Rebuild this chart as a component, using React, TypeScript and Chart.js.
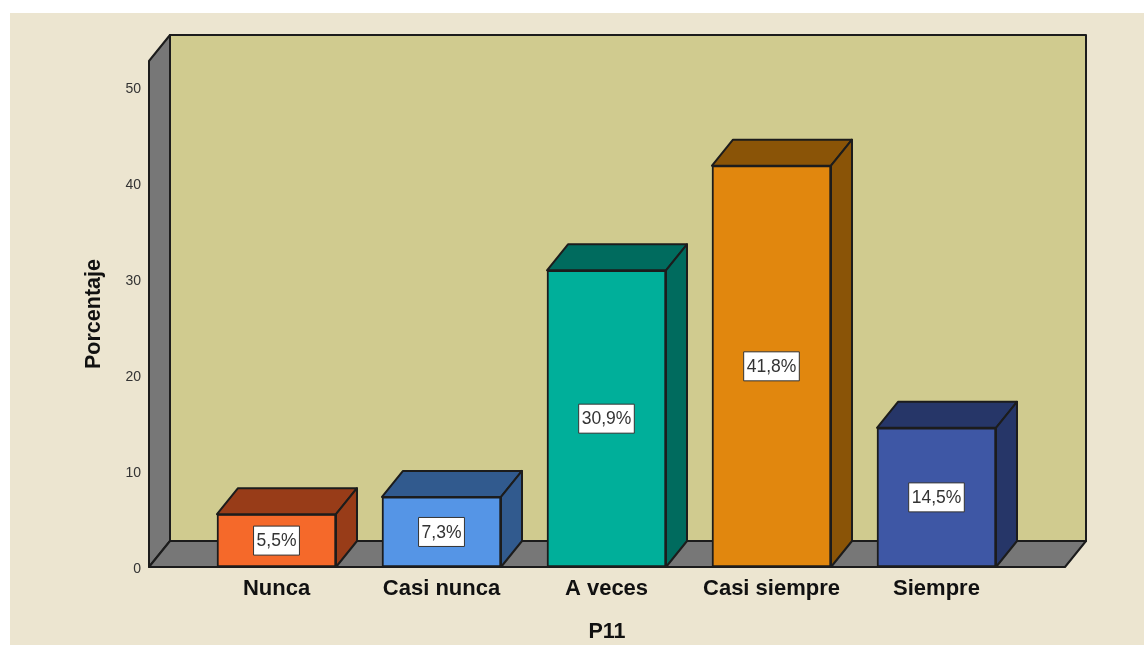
import React, { useEffect, useRef } from "react";
import { Chart, registerables } from "chart.js";

Chart.register(...registerables);

const categories = ["Nunca", "Casi nunca", "A veces", "Casi siempre", "Siempre"];
const percentages = [5.5, 7.3, 30.9, 41.8, 14.5];
const yTickValues = [0, 10, 20, 30, 40, 50];
const frontColors = ["#F5692A", "#5595E6", "#00AF9A", "#E1870E", "#3E57A5"];
const depthColors = ["#983C18", "#315A8E", "#006B5E", "#8A5407", "#263668"];
const xTitle = "P11";
const yTitle = "Porcentaje";

const W = 1144;
const H = 645;
const DX = 21;
const DY = -26;
const LINE = "#1c1c1c";
const FONT = "'Liberation Sans', Arial, sans-serif";

function poly(ctx: CanvasRenderingContext2D, pts: number[][], fill: string) {
  ctx.beginPath();
  pts.forEach((p, i) => (i ? ctx.lineTo(p[0], p[1]) : ctx.moveTo(p[0], p[1])));
  ctx.closePath();
  ctx.fillStyle = fill;
  ctx.fill();
  ctx.lineWidth = 2;
  ctx.strokeStyle = LINE;
  ctx.lineJoin = "round";
  ctx.stroke();
}

const scene3d = {
  id: "scene3d",
  beforeDraw(chart: any) {
    const { ctx } = chart;
    ctx.save();
    ctx.fillStyle = "#ffffff";
    ctx.fillRect(0, 0, W, H);
    ctx.fillStyle = "#ECE5D0";
    ctx.fillRect(10, 13, W - 10, H - 13);
    ctx.restore();
  },
  beforeDatasetsDraw(chart: any) {
    const { ctx, chartArea: a } = chart;
    const { left: l, right: r, top: t, bottom: b } = a;
    ctx.save();
    poly(ctx, [[l + DX, t + DY], [r + DX, t + DY], [r + DX, b + DY], [l + DX, b + DY]], "#D0CB8F");
    poly(ctx, [[l, t], [l + DX, t + DY], [l + DX, b + DY], [l, b]], "#777777");
    poly(ctx, [[l, b], [l + DX, b + DY], [r + DX, b + DY], [r, b]], "#777777");
    ctx.restore();
  },
  afterDatasetsDraw(chart: any) {
    const { ctx } = chart;
    const meta = chart.getDatasetMeta(0);
    ctx.save();
    meta.data.forEach((bar: any, i: number) => {
      const x0 = bar.x - bar.width / 2;
      const x1 = bar.x + bar.width / 2;
      const yt = bar.y;
      const yb = bar.base;
      poly(ctx, [[x0, yt], [x0 + DX, yt + DY], [x1 + DX, yt + DY], [x1, yt]], depthColors[i]);
      poly(ctx, [[x1, yt], [x1 + DX, yt + DY], [x1 + DX, yb + DY], [x1, yb]], depthColors[i]);

      const label = percentages[i].toFixed(1).replace(".", ",") + "%";
      ctx.font = `17.5px ${FONT}`;
      const tw = ctx.measureText(label).width;
      const bw = tw + 6;
      const bh = 29;
      const cy = (yt + yb) / 2;
      ctx.fillStyle = "#ffffff";
      ctx.strokeStyle = "#333333";
      ctx.lineWidth = 1;
      ctx.fillRect(bar.x - bw / 2, cy - bh / 2, bw, bh);
      ctx.strokeRect(bar.x - bw / 2, cy - bh / 2, bw, bh);
      ctx.fillStyle = "#333333";
      ctx.textAlign = "center";
      ctx.textBaseline = "middle";
      ctx.fillText(label, bar.x, cy + 1);
    });
    ctx.restore();
  },
};

export default function App() {
  const ref = useRef<HTMLCanvasElement | null>(null);

  useEffect(() => {
    if (!ref.current) return;
    const chart = new Chart(ref.current, {
      type: "bar",
      data: {
        datasets: [
          {
            data: categories.map((_, i) => ({ x: i, y: percentages[i] })) as any,
            backgroundColor: frontColors,
            borderColor: LINE,
            borderWidth: 2,
            borderSkipped: false,
            barThickness: 119,
          },
        ],
      },
      options: {
        responsive: false,
        animation: false,
        devicePixelRatio: 1,
        layout: { padding: { top: 61, right: W - 1065, left: 0, bottom: 0 } },
        plugins: { legend: { display: false }, tooltip: { enabled: false } },
        scales: {
          x: {
            type: "linear",
            offset: false,
            min: -0.7727,
            max: 4.7788,
            grid: { display: false, drawTicks: false },
            border: { display: false },
            afterBuildTicks(scale: any) {
              scale.ticks = categories.map((_, i) => ({ value: i }));
            },
            afterFit(scale: any) {
              scale.height = H - 567;
            },
            ticks: {
              autoSkip: false,
              maxRotation: 0,
              minRotation: 0,
              padding: 9,
              color: "#111111",
              font: { family: FONT, size: 22, weight: "bold" },
              callback: (v: any) => categories[v],
            },
            title: {
              display: true,
              text: xTitle,
              color: "#111111",
              padding: { top: -2, bottom: 0 },
              font: { family: FONT, size: 21.5, weight: "bold" },
            },
          },
          y: {
            type: "linear",
            min: 0,
            max: 52.7,
            grid: { display: false, drawTicks: false },
            border: { display: false },
            afterBuildTicks(scale: any) {
              scale.ticks = yTickValues.map((value) => ({ value }));
            },
            afterFit(scale: any) {
              scale.width = 149;
            },
            ticks: {
              padding: 8,
              color: "#333333",
              font: { family: FONT, size: 14, lineHeight: "5px" },
              callback: (v: any) => ["", String(v)],
            },
            title: {
              display: true,
              text: yTitle,
              color: "#111111",
              padding: { top: 81, bottom: 0 },
              font: { family: FONT, size: 21.5, weight: "bold" },
            },
          },
        },
      } as any,
      plugins: [scene3d],
    });
    return () => chart.destroy();
  }, []);

  return (
    <canvas
      ref={ref}
      width={W}
      height={H}
      style={{ position: "absolute", left: 0, top: 0, display: "block" }}
    />
  );
}
